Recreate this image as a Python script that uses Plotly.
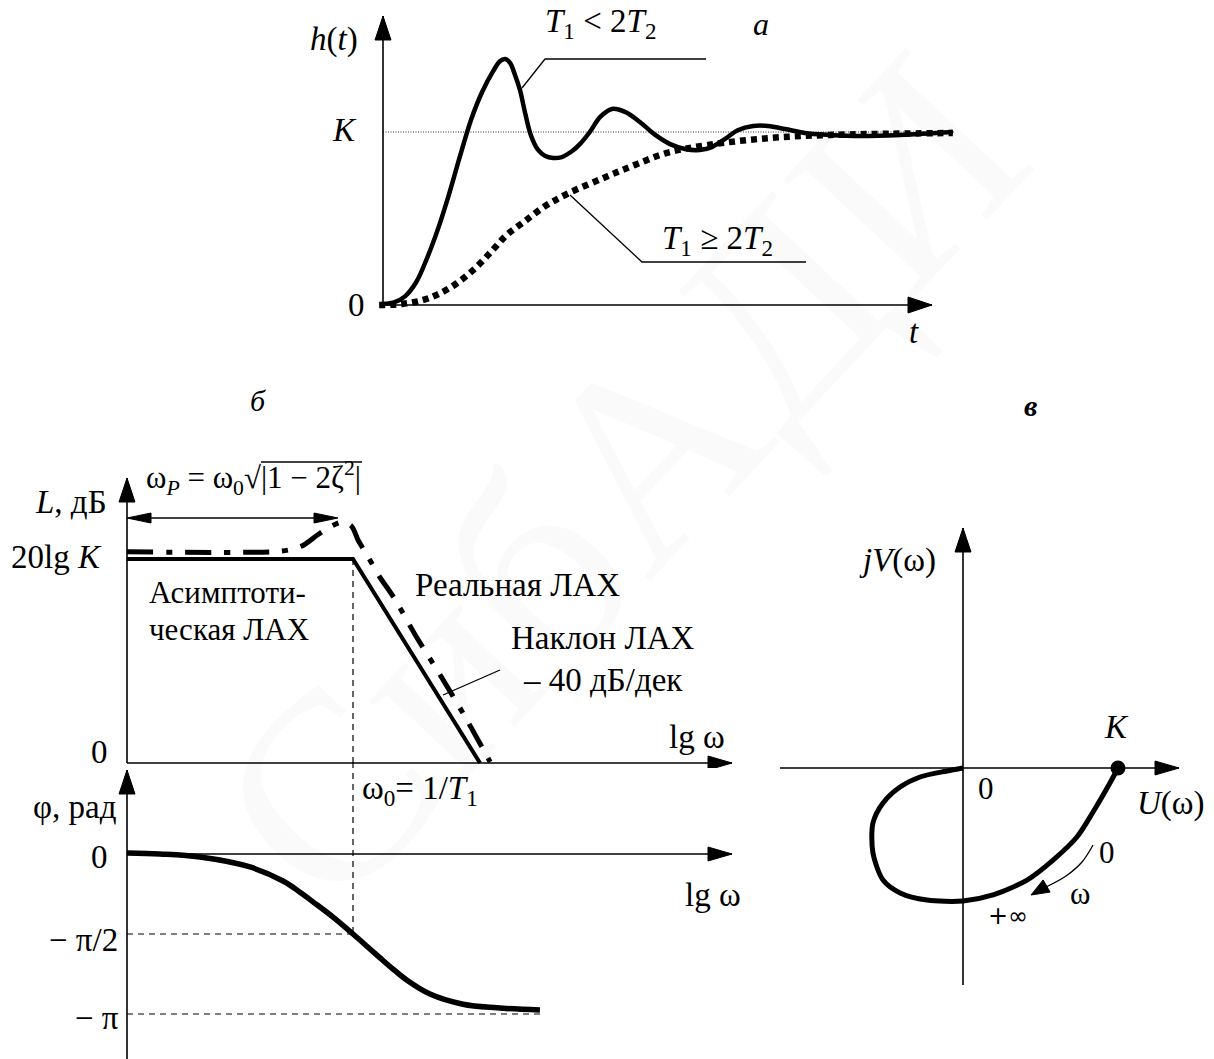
import math
import plotly.graph_objects as go

W, H = 1214, 1059
FONT = "Liberation Serif"
FS = 33

# ---------------- data ----------------
# (а) step responses h(t); K = 1
K_LEVEL = 1.0
t_osc = [-0.05, 0.2, 0.4, 0.6, 0.8, 1.0, 1.2, 1.4, 1.6, 1.8, 2.0, 2.13, 2.22, 2.31, 2.4,
         2.49, 2.58, 2.69, 2.82, 2.95, 3.09, 3.25, 3.44, 3.58, 3.76, 3.95, 4.16, 4.4, 4.67,
         4.95, 5.22, 5.49, 5.76, 5.98, 6.22, 6.45, 6.73, 7.0, 7.31, 7.67, 8.13, 8.67, 9.4, 10.36]
h_osc = [0.005, 0.015, 0.05, 0.13, 0.27, 0.44, 0.64, 0.86, 1.07, 1.23, 1.35, 1.41, 1.422, 1.40, 1.33,
         1.243, 1.116, 0.98, 0.896, 0.861, 0.85, 0.855, 0.89, 0.93, 1.0, 1.087, 1.133, 1.116, 1.058,
         0.983, 0.93, 0.902, 0.896, 0.913, 0.96, 1.01, 1.035, 1.035, 1.017, 0.994, 0.983, 0.977, 0.983, 1.0]
t_aper = [-0.07, 0.35, 0.73, 1.0, 1.35, 1.7, 2.0, 2.25, 2.56, 2.95, 3.38, 4.05, 4.58, 5.16,
          5.91, 7.02, 8.13, 9.22, 10.36]
h_aper = [0.0, 0.006, 0.029, 0.062, 0.127, 0.22, 0.32, 0.405, 0.48, 0.572, 0.647, 0.74, 0.81, 0.879,
          0.925, 0.965, 0.983, 0.99, 0.994]

# (б) LAX, dB vs lg(omega); omega0 at lg = 0, 20lgK = 40 dB
LGK_DB = 40
lgw_asym = [-1.78, 0.0, 1.0]
L_asym = [40, 40, 0]
lgw_real = [-1.78, -0.65, -0.5, -0.39, -0.28, -0.18, -0.08, -0.01, 0.04, 0.11, 0.21, 0.32, 0.50, 0.69, 0.87, 1.08]
L_real = [41.4, 41.4, 41.8, 42.7, 44.7, 46.3, 47.3, 46.4, 43.7, 40.8, 36.5, 32.5, 24.7, 17.1, 9.6, 0.2]

# phase, rad
lgw_phase = [-1.78, -1.52, -1.205, -0.811, -0.551, -0.417, -0.315, -0.157, 0.0, 0.118, 0.213,
             0.315, 0.425, 0.606, 0.866, 1.134, 1.472]
phi_phase = [0.02, 0.0, -0.059, -0.255, -0.53, -0.75, -0.94, -1.24, -1.571, -1.83, -2.04,
             -2.26, -2.48, -2.75, -2.95, -3.02, -3.063]

# (в) Nyquist (AФХ), K = 1
U_nyq = [1.0, 0.948, 0.839, 0.735, 0.581, 0.413, 0.194, 0.0, -0.232, -0.406, -0.516, -0.581,
         -0.581, -0.516, -0.406, -0.277, -0.103, 0.0]
V_nyq = [0.0, -0.097, -0.284, -0.445, -0.594, -0.723, -0.819, -0.858, -0.852, -0.806, -0.723,
         -0.548, -0.355, -0.226, -0.123, -0.058, -0.019, 0.0]

# ---------------- geometry (pixels) ----------------
P = {
    'a':  dict(ax='x2', ay='y2', px=(365, 975), py=(5, 318), x0=383, sx=55.0, y0=305, sy=173.0),
    'L':  dict(ax='x3', ay='y3', px=(110, 750), py=(425, 768), x0=353, sx=127.0, y0=763, sy=5.1),
    'ph': dict(ax='x4', ay='y4', px=(110, 750), py=(762, 1059), x0=353, sx=127.0, y0=854, sy=160 / math.pi),
    'ny': dict(ax='x5', ay='y5', px=(765, 1214), py=(470, 1005), x0=963, sx=155.0, y0=768, sy=155.0),
}


def X(p, px):
    g = P[p]
    return (px - g['x0']) / g['sx']


def Y(p, py):
    g = P[p]
    return (g['y0'] - py) / g['sy']


fig = go.Figure()

layout_axes = {}
layout_axes['xaxis'] = dict(domain=[0, 1], range=[0, W], visible=False, fixedrange=True)
layout_axes['yaxis'] = dict(domain=[0, 1], range=[H, 0], visible=False, fixedrange=True)
for key, g in P.items():
    xn = g['ax'][1:]
    yn = g['ay'][1:]
    layout_axes['xaxis' + xn] = dict(domain=[g['px'][0] / W, g['px'][1] / W],
                                     range=[X(key, g['px'][0]), X(key, g['px'][1])],
                                     visible=False, fixedrange=True, anchor=g['ay'])
    layout_axes['yaxis' + yn] = dict(domain=[1 - g['py'][1] / H, 1 - g['py'][0] / H],
                                     range=[Y(key, g['py'][1]), Y(key, g['py'][0])],
                                     visible=False, fixedrange=True, anchor=g['ax'])


def line(p, xs, ys, width=1.5, dash='solid', color='black', shape='linear', smoothing=None):
    ln = dict(color=color, width=width, dash=dash, shape=shape)
    if smoothing is not None:
        ln['smoothing'] = smoothing
    fig.add_trace(go.Scatter(x=xs, y=ys, mode='lines', line=ln, xaxis=P[p]['ax'], yaxis=P[p]['ay'],
                             hoverinfo='skip', showlegend=False))


def head(p, tip, direction, length=24, half=8):
    tx, ty = tip
    ux, uy = direction
    n = math.hypot(ux, uy)
    ux, uy = ux / n, uy / n
    bx, by = tx - ux * length, ty - uy * length
    qx, qy = -uy, ux
    pts = [(tx, ty), (bx + qx * half, by + qy * half), (bx - qx * half, by - qy * half), (tx, ty)]
    fig.add_trace(go.Scatter(x=[X(p, a) for a, _ in pts], y=[Y(p, b) for _, b in pts], mode='lines',
                             fill='toself', fillcolor='black', line=dict(color='black', width=1),
                             xaxis=P[p]['ax'], yaxis=P[p]['ay'], hoverinfo='skip', showlegend=False))


def axis_arrow(p, start, tip, length=24, half=8, width=1.6):
    line(p, [X(p, start[0]), X(p, tip[0])], [Y(p, start[1]), Y(p, tip[1])], width=width)
    head(p, tip, (tip[0] - start[0], tip[1] - start[1]), length, half)


DASH = '6px,5px'

# ---------- panel а ----------
line('a', [0, X('a', 955)], [K_LEVEL, K_LEVEL], width=1, dash='1px,1.5px', color='#333333')
axis_arrow('a', (383, 305), (383, 16))
axis_arrow('a', (383, 305), (932, 305))
line('a', t_aper, h_aper, width=6.5, dash='6px,5px', shape='spline', smoothing=1.0)
line('a', t_osc, h_osc, width=4.5, shape='spline', smoothing=1.0)
# leaders
line('a', [X('a', 522), X('a', 545), X('a', 706)], [Y('a', 88), Y('a', 59), Y('a', 59)], width=1.3)
line('a', [X('a', 570), X('a', 642), X('a', 806)], [Y('a', 195), Y('a', 262), Y('a', 262)], width=1.3)

# ---------- panel б (LAX) ----------
line('L', [0, 0], [LGK_DB, Y('L', 768)], width=1.2, dash=DASH)
axis_arrow('L', (127, 763), (127, 478))
axis_arrow('L', (127, 763), (732, 763), half=7)
line('L', lgw_real, L_real, width=5, dash='26px,13px,6px,13px', shape='spline', smoothing=0.8)
line('L', lgw_asym, L_asym, width=4)
# double arrow omega_P
line('L', [X('L', 140), X('L', 325)], [Y('L', 518)] * 2, width=1.5)
head('L', (127, 518), (-1, 0), length=24, half=5)
head('L', (338, 518), (1, 0), length=24, half=5)
# leader for slope
line('L', [X('L', 500), X('L', 443)], [Y('L', 670), Y('L', 695)], width=1.3)

# ---------- phase ----------
line('ph', [0, 0], [Y('ph', 762), -math.pi / 2], width=1.2, dash=DASH)
line('ph', [X('ph', 127), 0], [-math.pi / 2] * 2, width=1.2, dash=DASH)
line('ph', [X('ph', 127), lgw_phase[-1]], [-math.pi] * 2, width=1.2, dash=DASH)
axis_arrow('ph', (127, 1059), (127, 770))
axis_arrow('ph', (127, 854), (732, 854), half=7)
line('ph', lgw_phase, phi_phase, width=5.5, shape='spline', smoothing=1.0)

# ---------- panel в ----------
axis_arrow('ny', (963, 985), (963, 528))
axis_arrow('ny', (780, 768), (1179, 768), half=7)
line('ny', U_nyq, V_nyq, width=5, shape='spline', smoothing=0.8)
fig.add_trace(go.Scatter(x=[U_nyq[0]], y=[V_nyq[0]], mode='markers',
                         marker=dict(size=15, color='black'), xaxis='x5', yaxis='y5',
                         hoverinfo='skip', showlegend=False))
line('ny', [X('ny', 1093), X('ny', 1082), X('ny', 1066), X('ny', 1046)],
     [Y('ny', 845), Y('ny', 862), Y('ny', 876), Y('ny', 887)], width=1.3, shape='spline')
head('ny', (1031, 895), (-0.87, 0.5), length=18, half=7)

# ---------------- texts ----------------
ann = []


def txt(s, px, py, size=FS, xanchor='center', color='black', family=FONT):
    ann.append(dict(text=s, x=px / W, y=1 - py / H, xref='paper', yref='paper', showarrow=False,
                    xanchor=xanchor, yanchor='middle', font=dict(family=family, size=size, color=color)))


# faint watermark
ann.append(dict(text='СибАДИ', x=620 / W, y=1 - 480 / H, xref='paper', yref='paper', showarrow=False,
                textangle=-47, font=dict(family=FONT, size=270, color='rgba(0,0,0,0.02)')))

# а
txt('<i>h</i>(<i>t</i>)', 334, 40)
txt('<i>K</i>', 344, 130)
txt('0', 356, 305)
txt('<i>T</i><sub>1</sub> &lt; 2<i>T</i><sub>2</sub>', 600, 24)
txt('<i>а</i>', 761, 24, size=32)
txt('<i>T</i><sub>1</sub> ≥ 2<i>T</i><sub>2</sub>', 717, 240)
txt('<i>t</i>', 914, 332)

# б
txt('<i>б</i>', 258, 400, size=30)
txt('<b><i>в</i></b>', 1030, 405, size=30)
txt('ω<sub><i>P</i></sub> = ω<sub>0</sub>√|1 − 2ζ<sup>2</sup>|', 253, 478, size=31)
txt('<i>L</i>, дБ', 71, 502)
txt('20lg <i>K</i>', 56, 557)
txt('0', 100, 752)
txt('Асимптоти-', 147, 592, size=31, xanchor='left')
txt('ческая ЛАХ', 147, 629, size=31, xanchor='left')
txt('Реальная ЛАХ', 517, 585)
txt('Наклон ЛАХ', 603, 638)
txt('– 40 дБ/дек', 603, 680)
txt('lg ω', 697, 737)
txt('ω<sub>0</sub>= 1/<i>T</i><sub>1</sub>', 360, 790, xanchor='left')
txt('φ, рад', 75, 807)
txt('0', 100, 857)
txt('lg ω', 713, 895)
txt('− π/2', 83, 940)
txt('− π', 97, 1018)

# в
txt('<i>jV</i>(ω)', 897, 560)
txt('<i>K</i>', 1116, 727)
txt('0', 986, 788, size=31)
txt('<i>U</i>(ω)', 1171, 803)
txt('0', 1107, 852, size=31)
txt('ω', 1080, 893, size=31)
txt('+∞', 1008, 916, size=24, family='DejaVu Sans')

fig.update_layout(
    width=W, height=H, margin=dict(l=0, r=0, t=0, b=0),
    paper_bgcolor='white', plot_bgcolor='rgba(0,0,0,0)',
    showlegend=False, annotations=ann,
    shapes=[dict(type='line', xref='paper', yref='paper', x0=261 / W, x1=362 / W,
                 y0=1 - 462 / H, y1=1 - 462 / H, line=dict(color='black', width=1.3))],
    **layout_axes,
)

fig.write_html("out.html", config=dict(displayModeBar=False),
               post_script="document.body.style.margin='0';document.body.style.overflow='hidden';")
